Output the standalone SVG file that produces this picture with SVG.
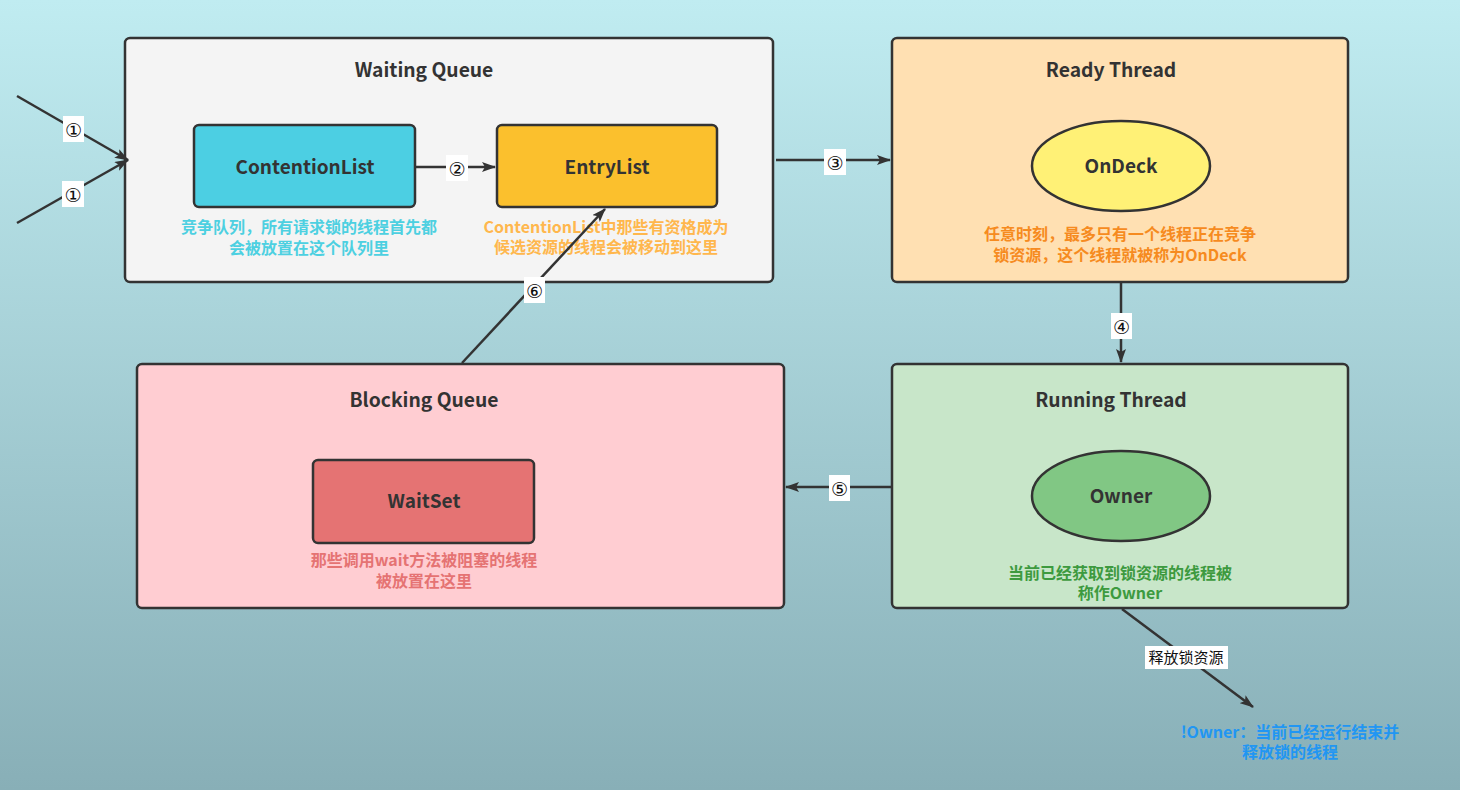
<svg xmlns="http://www.w3.org/2000/svg" width="1460" height="790" viewBox="0 0 1460 790">
<defs>
<linearGradient id="bg" x1="0" y1="0" x2="0" y2="1">
<stop offset="0" stop-color="#c0ecf1"/>
<stop offset="1" stop-color="#88afb7"/>
</linearGradient>
<marker id="ah" viewBox="0 0 14 10" refX="13" refY="5" markerWidth="14" markerHeight="10" markerUnits="userSpaceOnUse" orient="auto">
<path d="M0,0 L14,5 L0,10 L3,5 Z" fill="#333"/>
</marker>
<style>
.box{stroke:#333;stroke-width:2.5}
.t{font-family:"Noto Sans CJK SC","Noto Sans",sans-serif;font-weight:bold;text-anchor:middle}
.title{font-size:19.3px;fill:#333}
.name{font-size:19px;fill:#333}
.cap{font-size:16px}
.lbl{font-family:"DejaVu Sans","Noto Sans CJK SC",sans-serif;font-size:19px;fill:#111;text-anchor:middle}
.lbz{font-family:"Noto Sans CJK SC",sans-serif;font-size:15px;fill:#111;text-anchor:middle}
.lb{fill:#fff}
.edge{stroke:#333;stroke-width:2.5;fill:none;marker-end:url(#ah)}
</style>
</defs>
<rect width="1460" height="790" fill="url(#bg)"/>

<g id="waiting-queue">
<rect class="box" x="125" y="38" width="648" height="244" rx="5" fill="#f4f4f4"/>
<text class="t title" x="424" y="77">Waiting Queue</text>
</g>
<g id="contention-list">
<rect class="box" x="194" y="125" width="221" height="82" rx="5" fill="#4ccfe3"/>
<text class="t name" x="305" y="174">ContentionList</text>
<text class="t cap" fill="#4dd0e1"><tspan x="309" y="233">竞争队列，所有请求锁的线程首先都</tspan><tspan x="309" y="254">会被放置在这个队列里</tspan></text>
</g>
<g id="entry-list">
<rect class="box" x="497" y="125" width="220" height="82" rx="5" fill="#fbc02d"/>
<text class="t name" x="607" y="174">EntryList</text>
<text class="t cap" fill="#ffb74d"><tspan x="606" y="233">ContentionList中那些有资格成为</tspan><tspan x="606" y="253">候选资源的线程会被移动到这里</tspan></text>
</g>

<g id="ready-thread">
<rect class="box" x="892" y="38" width="456" height="244" rx="5" fill="#ffe0b2"/>
<text class="t title" x="1111" y="77">Ready Thread</text>
</g>
<g id="ondeck">
<ellipse class="box" cx="1121" cy="166" rx="89" ry="45" fill="#fff176"/>
<text class="t name" x="1121" y="173">OnDeck</text>
<text class="t cap" fill="#f68b1f"><tspan x="1120" y="240">任意时刻，最多只有一个线程正在竞争</tspan><tspan x="1120" y="261">锁资源，这个线程就被称为OnDeck</tspan></text>
</g>

<g id="blocking-queue">
<rect class="box" x="137" y="364" width="647" height="244" rx="5" fill="#ffcdd2"/>
<text class="t title" x="424" y="407">Blocking Queue</text>
</g>
<g id="waitset">
<rect class="box" x="313" y="460" width="221" height="83" rx="5" fill="#e57373"/>
<text class="t name" x="424" y="508">WaitSet</text>
<text class="t cap" fill="#e57373"><tspan x="424" y="566">那些调用wait方法被阻塞的线程</tspan><tspan x="424" y="587">被放置在这里</tspan></text>
</g>

<g id="running-thread">
<rect class="box" x="892" y="364" width="456" height="244" rx="5" fill="#c8e6c9"/>
<text class="t title" x="1111" y="407">Running Thread</text>
</g>
<g id="owner">
<ellipse class="box" cx="1121" cy="496" rx="89" ry="45" fill="#81c784"/>
<text class="t name" x="1121" y="503">Owner</text>
<text class="t cap" fill="#3d9a3f"><tspan x="1120" y="579">当前已经获取到锁资源的线程被</tspan><tspan x="1120" y="599">称作Owner</tspan></text>
</g>

<g id="not-owner">
<text class="t cap" fill="#2196f3"><tspan x="1290" y="738">!Owner：当前已经运行结束并</tspan><tspan x="1290" y="758">释放锁的线程</tspan></text>
</g>

<g id="connectors">
<line class="edge" x1="17" y1="96" x2="128" y2="160"/>
<line class="edge" x1="17" y1="223" x2="128" y2="160"/>
<line class="edge" x1="415" y1="167" x2="495" y2="167"/>
<line class="edge" x1="776" y1="160" x2="890" y2="160"/>
<line class="edge" x1="1121" y1="283" x2="1121" y2="362"/>
<line class="edge" x1="891" y1="487" x2="786" y2="487"/>
<line class="edge" x1="462" y1="363" x2="605" y2="209"/>
<line class="edge" x1="1122" y1="609" x2="1253" y2="707"/>

<rect class="lb" x="63" y="116" width="21" height="26"/>
<text class="lbl" x="73.5" y="137">①</text>
<rect class="lb" x="62" y="181" width="22" height="26"/>
<text class="lbl" x="73" y="202">①</text>
<rect class="lb" x="446" y="155" width="22" height="26"/>
<text class="lbl" x="457" y="176">②</text>
<rect class="lb" x="824" y="149" width="22" height="26"/>
<text class="lbl" x="835" y="170">③</text>
<rect class="lb" x="1111" y="313" width="21" height="26"/>
<text class="lbl" x="1121.5" y="334">④</text>
<rect class="lb" x="829" y="475" width="21" height="26"/>
<text class="lbl" x="839.5" y="496">⑤</text>
<rect class="lb" x="524" y="277" width="21" height="26"/>
<text class="lbl" x="534.5" y="298">⑥</text>
<rect class="lb" x="1145" y="646" width="83" height="23"/>
<text class="lbz" x="1186" y="663">释放锁资源</text>
</g>
</svg>
